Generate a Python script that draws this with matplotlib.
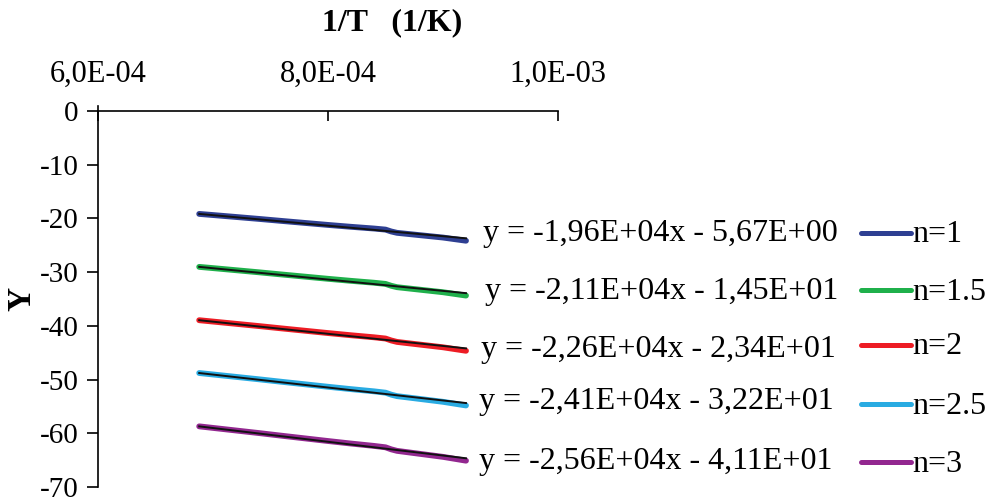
import matplotlib
matplotlib.use("Agg")
import matplotlib.pyplot as plt
from matplotlib.lines import Line2D
import numpy as np

plt.rcParams['font.family'] = ['Liberation Serif', 'DejaVu Serif']

# 1/T values (1/K)
inv_t = np.array([6.88, 7.0, 7.2, 7.4, 7.6, 7.8, 8.0, 8.2, 8.4, 8.5, 8.55, 8.6, 8.8, 9.0, 9.2]) * 1e-4

y_n1 = [-19.16, -19.37, -19.73, -20.09, -20.47, -20.84, -21.21, -21.56, -21.88, -22.08, -22.43, -22.68, -23.12, -23.56, -24.15]
y_n15 = [-29.02, -29.25, -29.64, -30.03, -30.44, -30.84, -31.24, -31.62, -31.97, -32.19, -32.54, -32.80, -33.27, -33.74, -34.36]
y_n2 = [-38.95, -39.20, -39.62, -40.04, -40.48, -40.91, -41.34, -41.75, -42.13, -42.36, -42.72, -42.99, -43.49, -43.99, -44.64]
y_n25 = [-48.78, -49.05, -49.50, -49.95, -50.42, -50.88, -51.34, -51.78, -52.19, -52.44, -52.81, -53.08, -53.61, -54.14, -54.82]
y_n3 = [-58.71, -59.00, -59.48, -59.96, -60.46, -60.95, -61.44, -61.91, -62.35, -62.61, -62.99, -63.27, -63.83, -64.39, -65.10]

series = [y_n1, y_n15, y_n2, y_n25, y_n3]
names = ['n=1', 'n=1.5', 'n=2', 'n=2.5', 'n=3']
colors = ['#2e3f92', '#1fb04b', '#ed1c24', '#29abe2', '#92278f']

# trendline coefficients (slope, intercept) as printed
slopes = [-1.96e4, -2.11e4, -2.26e4, -2.41e4, -2.56e4]
intercepts = [-5.67, -14.5, -23.4, -32.2, -41.1]
equations = ['y = -1,96E+04x - 5,67E+00',
             'y = -2,11E+04x - 1,45E+01',
             'y = -2,26E+04x - 2,34E+01',
             'y = -2,41E+04x - 3,22E+01',
             'y = -2,56E+04x - 4,11E+01']

xticks = [6e-4, 8e-4, 1e-3]
xticklabels = ['6,0E-04', '8,0E-04', '1,0E-03']
yticks = [0, -10, -20, -30, -40, -50, -60, -70]

W, H = 994, 504
fig = plt.figure(figsize=(W / 100, H / 100), dpi=100)

# pixel layout: x 98..558, y=0 at 111 px, y=-70 at 487 px
ppu = (487 - 111) / 70.0
top_px = 111 - ppu * 1.0
ax = fig.add_axes([98 / W, 1 - 487 / H, (558 - 98) / W, (487 - top_px) / H])

for ys, c in zip(series, colors):
    ax.plot(inv_t, ys, color=c, lw=4.2, solid_capstyle='round', zorder=2)
for a, b in zip(slopes, intercepts):
    xx = np.array([inv_t[0], inv_t[-1]])
    ax.plot(xx, a * xx + b, color='#111111', lw=1.4, zorder=3)

ax.set_xlim(6e-4, 1e-3)
ax.set_ylim(-70, 1)
ax.spines['right'].set_visible(False)
ax.spines['bottom'].set_visible(False)
ax.spines['top'].set_position(('data', 0))
ax.spines['top'].set_linewidth(1.2)
ax.spines['left'].set_linewidth(1.2)
ax.xaxis.set_ticks_position('top')
ax.set_xticks(xticks)
ax.set_xticklabels(xticklabels)
ax.set_yticks(yticks)
ax.set_yticklabels([str(v) for v in yticks])
ax.tick_params(axis='x', direction='in', length=7, width=1.2, labelsize=22, pad=16)
ax.tick_params(axis='y', direction='out', length=8, width=1.2, labelsize=21, pad=6)

fig.text(392 / W, 1 - 23 / H, '1/T   (1/K)', fontsize=23, fontweight='bold', ha='center', va='center')
fig.text(22 / W, 1 - 299 / H, 'Y', fontsize=24, fontweight='bold', ha='center', va='center', rotation=90)

# legend-like block on the right
eq_y = [234, 291, 349, 402, 462]
line_y = [233, 290, 345, 404, 462]
eq_x = [838, 838, 836, 834, 832]
for i in range(5):
    fig.text(eq_x[i] / W, 1 - eq_y[i] / H, equations[i], fontsize=23, ha='right', va='center')
    fig.add_artist(Line2D([861 / W, 911 / W], [1 - line_y[i] / H] * 2, color=colors[i], lw=3.6,
                          solid_capstyle='round', transform=fig.transFigure))
    fig.text(912 / W, 1 - (line_y[i] + 2) / H, names[i], fontsize=23, ha='left', va='center')

fig.savefig('out.png', dpi=100)
